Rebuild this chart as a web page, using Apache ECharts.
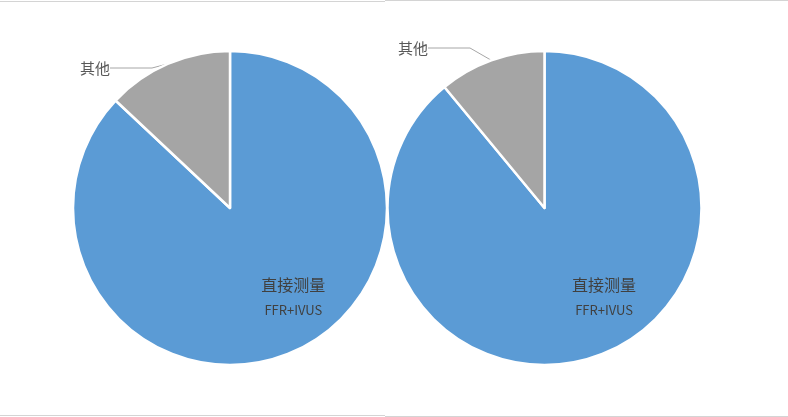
<!doctype html>
<meta charset="utf-8">
<style>
  html, body {
    margin: 0;
    height: 100%;
    background: #fff;
  }

  #chart {
    width: 788px;
    height: 417px;
  }
</style>
<script src="https://cdn.jsdelivr.net/npm/echarts@6/dist/echarts.min.js"></script>

<div id="chart"></div>

<script>
  const categories = ['直接测量', '其他']
  const subLabels = ['FFR+IVUS', '']
  const leftValues = [87, 13]
  const rightValues = [89, 11]
  const colors = ['#5b9bd5', '#a5a5a5']

  let chart = echarts.init(document.getElementById('chart'))

  function makeData(values) {
    return values.map((v, i) => ({
      name: categories[i],
      value: v,
      itemStyle: { color: colors[i] },
    }))
  }

  // insideShift moves the big slice's label, otherAt places the "其他" label
  function makeSeries(values, center, insideShift, otherAt) {
    return {
      type: 'pie',
      center: center,
      radius: 157,
      startAngle: 90,
      clockwise: true,
      silent: true,
      itemStyle: {
        borderColor: '#fff',
        borderWidth: 2.5,
      },
      label: {
        show: true,
        position: 'outside',
        color: '#595959',
        fontSize: 15,
        fontFamily: 'Noto Sans CJK SC',
        padding: [0, 4, 0, 0],
        formatter: '{b}',
      },
      labelLine: {
        show: true,
        length: 8,
        length2: 42,
        lineStyle: { color: '#a6a6a6', width: 1 },
      },
      data: makeData(values).map((d, i) => {
        if (i === 0) {
          d.label = {
            position: 'inside',
            padding: 0,
            formatter: '{a|' + categories[0] + '}\n{b|' + subLabels[0] + '}',
            rich: {
              a: { fontSize: 16, color: '#404040', fontFamily: 'Noto Sans CJK SC', lineHeight: 26 },
              b: { fontSize: 13, color: '#404040', fontFamily: 'Noto Sans CJK SC', lineHeight: 24 },
            },
          }
          d.labelLine = { show: false }
        }
        return d
      }),
      labelLayout: function (params) {
        if (params.dataIndex === 0) {
          return { dx: insideShift[0], dy: insideShift[1] }
        }
        return { x: otherAt[0], y: otherAt[1], align: 'right', verticalAlign: 'middle' }
      },
    }
  }

  chart.setOption({
    animation: false,
    graphic: [
      { type: 'line', shape: { x1: 0, y1: 1.5, x2: 385, y2: 1.5 }, style: { stroke: '#d4d4d4', lineWidth: 1 } },
      { type: 'line', shape: { x1: 385, y1: 0.5, x2: 788, y2: 0.5 }, style: { stroke: '#d4d4d4', lineWidth: 1 } },
      { type: 'line', shape: { x1: 0, y1: 415.5, x2: 385, y2: 415.5 }, style: { stroke: '#d4d4d4', lineWidth: 1 } },
      { type: 'line', shape: { x1: 385, y1: 416.5, x2: 788, y2: 416.5 }, style: { stroke: '#d4d4d4', lineWidth: 1 } },
    ],
    series: [
      makeSeries(leftValues, [230, 208], [31, 14], [114, 68]),
      makeSeries(rightValues, [544.5, 208], [32, 12], [432, 48]),
    ],
  })
</script>
